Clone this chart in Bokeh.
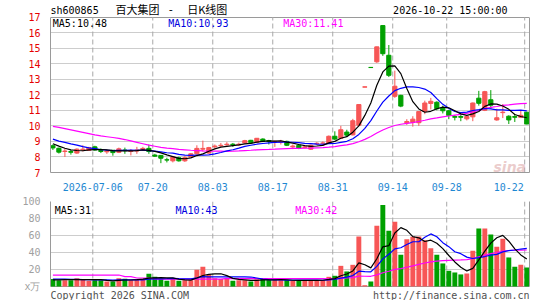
from bokeh.plotting import figure
from bokeh.models import (Range1d, FixedTicker, CustomJSTickFormatter, Label, ColumnDataSource,
                          LinearAxis, Grid)
from bokeh.layouts import column
from bokeh.embed import file_html
from bokeh.resources import INLINE

# ---------------- data ----------------
opens = [8.72, 8.56, 8.35, 8.35, 8.25, 8.45, 8.42, 8.65, 8.42, 8.33,
         8.43, 8.30, 8.45, 8.35, 8.38, 8.50, 8.55, 8.12, 8.10, 7.82,
         7.75, 7.95, 7.75, 8.00, 8.20, 8.50, 8.25, 8.65, 8.72, 8.78,
         8.82, 8.78, 8.90, 9.07, 8.95, 9.15, 9.05, 8.95, 8.95, 9.00,
         8.65, 8.75, 8.60, 8.50, 8.85, 8.88, 8.87, 9.33, 9.20, 9.60,
         9.42, 10.04, 12.49, 13.76, 14.12, 16.45, 14.54, 11.90, 11.96, 10.20,
         10.22, 10.20, 10.93, 11.44, 11.52, 11.15, 10.97, 10.60, 10.60, 10.45,
         10.58, 11.78, 11.00, 11.68, 10.38, 10.85, 10.62, 10.60, 10.55, 10.88]
highs = [8.80, 8.60, 8.55, 8.45, 8.55, 8.75, 8.65, 8.72, 8.55, 8.45,
         8.45, 8.60, 8.60, 8.50, 8.65, 8.65, 8.80, 8.20, 8.12, 7.95,
         8.05, 8.02, 8.05, 8.25, 8.75, 9.05, 8.65, 8.80, 8.90, 8.95,
         8.90, 8.92, 9.10, 9.10, 9.22, 9.20, 9.10, 9.05, 9.10, 9.05,
         8.80, 8.80, 8.70, 8.80, 8.95, 9.00, 9.38, 9.65, 10.00, 9.75,
         10.45, 11.40, 12.51, 13.76, 15.10, 16.46, 15.20, 13.55, 12.00, 10.43,
         10.62, 10.94, 11.62, 11.80, 11.58, 11.30, 11.03, 10.70, 10.70, 10.70,
         11.50, 12.25, 12.25, 12.30, 11.10, 11.40, 10.68, 10.75, 11.00, 10.90]
lows = [8.45, 8.22, 8.00, 8.15, 8.20, 8.35, 8.40, 8.40, 8.25, 8.20,
        8.08, 8.25, 8.20, 8.10, 8.20, 8.40, 8.20, 8.00, 7.60, 7.65,
        7.65, 7.70, 7.68, 7.98, 8.15, 8.35, 8.20, 8.55, 8.65, 8.72,
        8.65, 8.70, 8.85, 8.88, 8.90, 8.95, 8.80, 8.65, 8.80, 8.70,
        8.50, 8.50, 8.55, 8.45, 8.75, 8.75, 8.85, 9.08, 9.15, 9.33,
        9.38, 10.00, 12.49, 13.75, 14.05, 14.50, 13.14, 11.80, 11.20, 10.06,
        9.95, 10.00, 10.75, 11.06, 11.00, 10.80, 10.43, 10.35, 10.30, 10.35,
        10.30, 11.30, 10.95, 11.10, 10.33, 10.50, 10.12, 10.25, 10.50, 10.10]
closes = [8.58, 8.31, 8.38, 8.30, 8.50, 8.50, 8.60, 8.45, 8.35, 8.38,
          8.28, 8.52, 8.40, 8.38, 8.45, 8.55, 8.35, 8.05, 7.92, 7.80,
          8.00, 7.75, 7.95, 8.20, 8.55, 8.55, 8.60, 8.70, 8.75, 8.82,
          8.78, 8.82, 9.05, 8.92, 9.20, 9.00, 9.00, 9.00, 9.00, 8.75,
          8.70, 8.55, 8.65, 8.75, 8.88, 8.90, 9.33, 9.15, 9.75, 9.40,
          10.33, 11.37, 12.51, 13.75, 15.08, 14.64, 13.25, 12.55, 11.27, 10.28,
          10.43, 10.92, 11.47, 11.58, 11.10, 10.97, 10.68, 10.55, 10.55, 10.60,
          11.47, 11.45, 12.20, 11.33, 10.52, 10.88, 10.38, 10.55, 10.68, 10.12]
volumes = [8.7, 7.5, 7.5, 7.5, 9.8, 8.7, 6.7, 7.5, 7.5, 5.9,
           5.9, 9.8, 9.0, 7.5, 8.3, 9.0, 15.0, 11.4, 9.0, 6.7,
           9.0, 6.7, 7.5, 7.5, 19.6, 23.2, 13.8, 9.8, 8.7, 8.7,
           6.7, 7.5, 7.5, 5.9, 8.3, 9.8, 7.5, 7.5, 7.5, 7.5,
           6.7, 6.7, 7.5, 7.5, 7.5, 7.5, 11.4, 12.6, 24.3, 17.7,
           25.5, 58.9, 1.5, 5.9, 71.4, 95.9, 65.5, 76.1, 37.3, 55.7,
           58.5, 58.9, 54.5, 45.0, 37.3, 27.1, 18.5, 16.5, 14.2, 15.3,
           42.0, 68.3, 68.3, 61.2, 46.7, 56.1, 34.2, 23.2, 25.5, 22.4]

# moving-average values before a full window exists
ma5_head = [8.85, 8.70, 8.56, 8.46]
ma10_head = [9.15, 9.02, 8.94, 8.84, 8.76, 8.66, 8.58, 8.53, 8.47]
ma30_head = [9.97, 9.90, 9.82, 9.74, 9.66, 9.58, 9.50, 9.42, 9.35, 9.30,
             9.25, 9.20, 9.12, 9.03, 8.94, 8.85, 8.76, 8.69, 8.62, 8.57,
             8.53, 8.49, 8.46, 8.43, 8.41, 8.39, 8.38, 8.37, 8.37]
vma5_head = [7.9, 7.9, 8.0, 8.0]
vma10_head = [8.7, 8.7, 8.6, 8.5, 8.4, 8.2, 8.0, 7.9, 7.8]
vma30_head = [13.5, 13.5, 13.5, 13.5, 13.5, 13.5, 13.5, 13.5, 13.5, 13.5,
              13.5, 13.5, 11.6, 11.6, 10.0, 10.0, 10.0, 8.7, 8.7, 8.7,
              8.7, 8.7, 8.7, 8.7, 8.7, 8.7, 8.7, 8.7, 8.7]

tick_idx = [7, 17, 27, 37, 47, 57, 66, 79]
tick_labels = ["2026-07-06", "07-20", "08-03", "08-17", "08-31", "09-14", "09-28", "10-22"]
price_ticks = [7, 8, 9, 10, 11, 12, 13, 14, 15, 16, 17]
vol_ticks = [0, 20, 40, 60, 80, 100]

# ---------------- styles ----------------
UP = "#f75656"
DOWN = "#00a000"
BORDER = "#9a9a9a"
MONO = "DejaVu Sans Mono"
CJK = "Noto Sans CJK SC"
W = 545


def moving(vals, n, head):
    out = list(head)
    for i in range(len(head), len(vals)):
        out.append(sum(vals[i - n + 1:i + 1]) / n)
    return out


n = len(closes)
idx = list(range(n))
colors = [UP if c >= o else DOWN for o, c in zip(opens, closes)]
src = ColumnDataSource(dict(
    x=idx, o=opens, h=highs, l=lows, c=closes,
    top=[max(o, c) for o, c in zip(opens, closes)],
    bottom=[min(o, c) for o, c in zip(opens, closes)],
    color=colors, vol=volumes))

ma5 = moving(closes, 5, ma5_head)
ma10 = moving(closes, 10, ma10_head)
ma30 = moving(closes, 30, ma30_head)
vma5 = moving(volumes, 5, vma5_head)
vma10 = moving(volumes, 10, vma10_head)
vma30 = moving(volumes, 30, vma30_head)

grid_pos = [t - 0.35 for t in tick_idx]
label_pos = [t - 0.35 for t in tick_idx]
label_pos[-1] = tick_idx[-1] - 3.0

xr = Range1d(-0.4, n - 0.55)


def panel(fig, lo, hi, inner_ticks):
    """Box, dotted value grid and dashed date lines for the lo..hi band of a figure."""
    fig.outline_line_color = None
    fig.background_fill_color = "white"
    fig.border_fill_color = "white"
    fig.xgrid.visible = False
    fig.ygrid.ticker = FixedTicker(ticks=inner_ticks)
    fig.ygrid.grid_line_color = "#9a9a9a"
    fig.ygrid.grid_line_dash = "1 1"
    fig.add_layout(Grid(dimension=1, ticker=FixedTicker(ticks=[lo, hi]),
                        grid_line_color=BORDER, grid_line_width=1))
    fig.segment(x0=grid_pos, y0=[lo] * len(grid_pos), x1=grid_pos, y1=[hi] * len(grid_pos),
                line_color="#a8a8a8", line_dash="5 3", line_width=1)
    ya = fig.yaxis[0]
    ya.bounds = (lo, hi)
    ya.axis_line_color = BORDER
    ya.major_tick_line_color = None
    ya.minor_tick_line_color = None
    ya.major_label_text_font = MONO
    ya.major_label_text_font_size = "10px"
    ya.major_label_standoff = 4
    ra = LinearAxis(ticker=FixedTicker(ticks=[]), bounds=(lo, hi), axis_line_color=BORDER,
                    major_tick_line_color=None, minor_tick_line_color=None,
                    major_label_text_font_size="0px")
    fig.add_layout(ra, "right")


def label(fig, x, y, text, font=MONO, size="10px", color="black", align="left"):
    fig.add_layout(Label(x=x, y=y, x_units="screen", y_units="screen", text=text,
                         text_font=font, text_font_size=size, text_color=color,
                         text_align=align, text_baseline="alphabetic"))


# ---------------- main price chart (frame reaches the top of the picture) ----------------
p = figure(width=W, height=193, x_range=xr,
           y_range=Range1d(price_ticks[0], price_ticks[-1] + 17 / 16), title=None,
           output_backend="svg", toolbar_location=None,
           min_border_left=50, min_border_right=16, min_border_top=0, min_border_bottom=16)
panel(p, price_ticks[0], price_ticks[-1], price_ticks[1:-1])
p.yaxis[0].ticker = FixedTicker(ticks=price_ticks)
p.yaxis[0].major_label_text_color = "#e60000"
xa = p.xaxis[0]
xa.ticker = FixedTicker(ticks=label_pos)
xa.formatter = CustomJSTickFormatter(args=dict(labels=tick_labels), code="return labels[index];")
xa.axis_line_color = BORDER
xa.major_tick_line_color = None
xa.minor_tick_line_color = None
xa.major_label_text_font = MONO
xa.major_label_text_color = "#1e88d2"
xa.major_label_text_font_size = "10px"
xa.major_label_standoff = 4

p.add_layout(Label(x=443, y=6, x_units="screen", y_units="screen", text="sina",
                   text_font="DejaVu Sans", text_font_style="bold italic",
                   text_font_size="14px", text_color="#d89a9a", text_alpha=0.5,
                   text_baseline="alphabetic"))

p.segment(x0="x", y0="l", x1="x", y1="h", color="color", line_width=1, source=src)
p.vbar(x="x", top="top", bottom="bottom", width=0.7, fill_color="color",
       line_color="color", line_width=1, source=src)
p.line(idx, ma30, color="#ff00ff", line_width=1.2)
p.line(idx, ma10, color="#0000ff", line_width=1.2)
p.line(idx, ma5, color="black", line_width=1.2)

# frame bottom is picture row 177: y = 177 - row
label(p, 2.3, 149.5, "MA5:10.48")
label(p, 117.7, 149.5, "MA10:10.93", color="#0000e0")
label(p, 232.7, 149.5, "MA30:11.41", color="#ff00ff")
label(p, 0, 162.5, "sh600865")
label(p, 65, 163.5, "百大集团", font=CJK, size="11px")
label(p, 120.3, 163.5, "-", size="11px", align="center")
label(p, 136.7, 163.5, "日K线图", font=CJK, size="11px")
label(p, 457, 162.5, "2026-10-22 15:00:00", align="right")

# ---------------- volume chart (frame reaches the bottom of the picture) ----------------
v = figure(width=W, height=107, x_range=xr,
           y_range=Range1d(-14 * 100 / 85, vol_ticks[-1]), title=None,
           output_backend="svg", toolbar_location=None,
           min_border_left=50, min_border_right=16, min_border_top=8, min_border_bottom=0)
panel(v, vol_ticks[0], vol_ticks[-1], vol_ticks[1:-1])
v.xaxis.visible = False
v.yaxis[0].ticker = FixedTicker(ticks=vol_ticks)
v.yaxis[0].major_label_overrides = {0: "x万"}
v.yaxis[0].major_label_text_color = "#a0a0a0"

v.vbar(x="x", top="vol", bottom=0, width=0.82, fill_color="color", line_color=None, source=src)
v.line(idx, vma30, color="#ff00ff", line_width=1.2)
v.line(idx, vma10, color="#0000ff", line_width=1.2)
v.line(idx, vma5, color="black", line_width=1.2)

# frame bottom is picture row 300: y = 300 - row
label(v, 4.3, 90.5, "MA5:31")
label(v, 125, 90.5, "MA10:43", color="#0000e0")
label(v, 244.7, 90.5, "MA30:42", color="#ff00ff")
label(v, 0, 5.5, "Copyright 2026 SINA.COM", color="#505050")
label(v, 479, 5.5, "http://finance.sina.com.cn", color="#505050", align="right")

layout = column(p, v, spacing=0)
open("out.html", "w").write(file_html(layout, INLINE))
